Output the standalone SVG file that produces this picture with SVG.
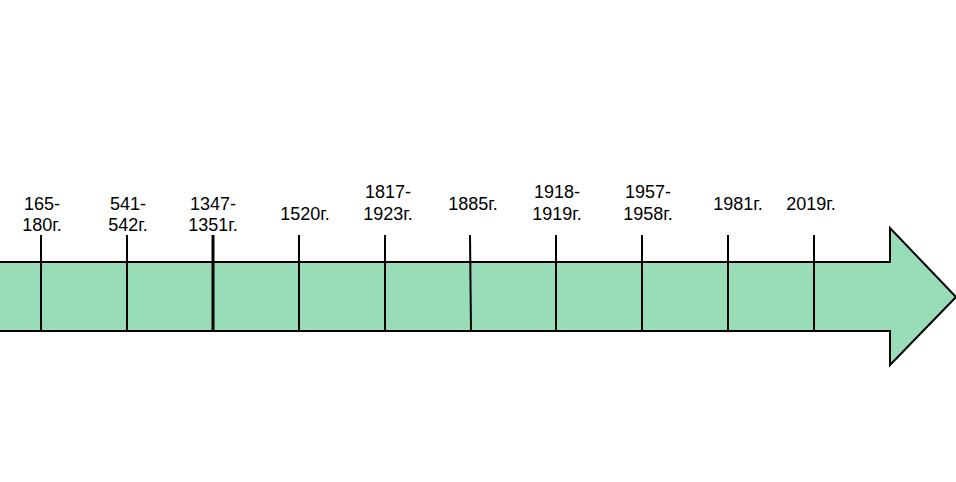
<svg xmlns="http://www.w3.org/2000/svg" width="956" height="482" viewBox="0 0 956 482">
<style>
.lbl{font-family:"Liberation Sans",Arial,sans-serif;font-size:18px;fill:#000;text-anchor:middle}
.tick{stroke:#000;stroke-width:2;fill:none}
.arrow{fill:#98DDB8;stroke:#000;stroke-width:2;stroke-linejoin:miter}
</style>
<rect width="956" height="482" fill="#fff"/>
<g id="arrow">
<polygon class="arrow" points="-2,262 890,262 890,228 956,297 890,365 890,331 -2,331"/>
</g>
<g id="connectors">
<line class="tick" x1="41" y1="235" x2="41" y2="331"/>
<line class="tick" x1="127" y1="235" x2="127" y2="331"/>
<line class="tick" x1="213" y1="235" x2="213" y2="331" style="stroke-width:3"/>
<line class="tick" x1="299" y1="235" x2="299" y2="331"/>
<line class="tick" x1="385" y1="235" x2="385" y2="331"/>
<line class="tick" x1="470" y1="235" x2="471" y2="331"/>
<line class="tick" x1="556" y1="235" x2="556" y2="331"/>
<line class="tick" x1="642" y1="235" x2="642" y2="331"/>
<line class="tick" x1="728" y1="235" x2="728" y2="331"/>
<line class="tick" x1="814" y1="235" x2="814" y2="331"/>
</g>
<g id="n1"><text class="lbl" x="42" y="210">165-</text><text class="lbl" x="42" y="231">180г.</text></g>
<g id="n2"><text class="lbl" x="128" y="210">541-</text><text class="lbl" x="128" y="231">542г.</text></g>
<g id="n3"><text class="lbl" x="213" y="210">1347-</text><text class="lbl" x="213" y="231">1351г.</text></g>
<g id="n4"><text class="lbl" x="305" y="220">1520г.</text></g>
<g id="n5"><text class="lbl" x="388" y="198">1817-</text><text class="lbl" x="388" y="220">1923г.</text></g>
<g id="n6"><text class="lbl" x="473" y="210">1885г.</text></g>
<g id="n7"><text class="lbl" x="557" y="198">1918-</text><text class="lbl" x="557" y="220">1919г.</text></g>
<g id="n8"><text class="lbl" x="648" y="198">1957-</text><text class="lbl" x="648" y="220">1958г.</text></g>
<g id="n9"><text class="lbl" x="738" y="210">1981г.</text></g>
<g id="n10"><text class="lbl" x="811" y="210">2019г.</text></g>
</svg>
